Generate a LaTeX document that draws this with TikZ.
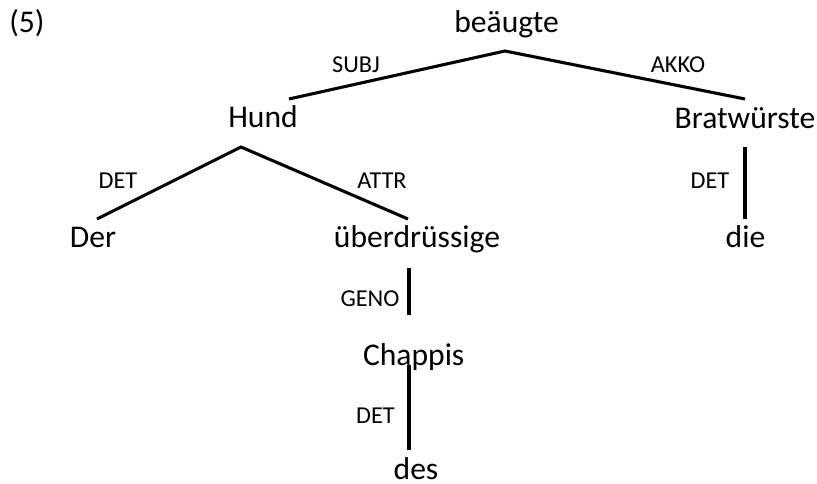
\documentclass[tikz,border=0pt]{standalone}
\usepackage{fontspec}
\setmainfont{Carlito}
\begin{document}
\begin{tikzpicture}[x=0.75pt,y=-0.75pt,
  word/.style={inner sep=0pt,anchor=base,font=\fontsize{23.7}{28}\selectfont},
  rel/.style={inner sep=0pt,anchor=base,font=\fontsize{18.2}{22}\selectfont},
  edge/.style={line width=2.3pt}]
\useasboundingbox (0,0) rectangle (817,484);
% words
\node[word,anchor=base west] (num) at (9,33) {(5)};
\node[word] (beaugte) at (506.5,33) {beäugte};
\node[word] (hund) at (263,128) {Hund};
\node[word] (brat) at (745,129) {Bratwürste};
\node[word] (der) at (93,248) {Der};
\node[word] (ueber) at (417,248) {überdrüssige};
\node[word] (die) at (745.5,248) {die};
\node[word] (chappis) at (413.7,366) {Chappis};
\node[word] (des) at (416,479.5) {des};
% relation labels
\node[rel] (subj) at (356,73) {SUBJ};
\node[rel] (akko) at (678,73) {AKKO};
\node[rel] (det1) at (118,189) {DET};
\node[rel] (attr) at (382,189) {ATTR};
\node[rel] (det2) at (710,189) {DET};
\node[rel] (geno) at (370,307) {GENO};
\node[rel] (det3) at (375.5,423) {DET};
% connector end points
\coordinate (beaugteB) at (505,51);
\coordinate (hundT) at (289,99);
\coordinate (bratT) at (745,99);
\coordinate (hundB) at (241,147);
\coordinate (derT) at (97,219);
\coordinate (ueberT) at (408,219);
\coordinate (bratB) at (745,147);
\coordinate (dieT) at (745,219);
\coordinate (ueberB) at (409,268);
\coordinate (chappisT) at (409,315);
\coordinate (chappisB) at (409,365);
\coordinate (desT) at (409,450);
% connectors
\draw[edge] (hundT) -- (beaugteB) -- (bratT);
\draw[edge] (derT) -- (hundB) -- (ueberT);
\draw[edge] (bratB) -- (dieT);
\draw[edge] (ueberB) -- (chappisT);
\draw[edge] (chappisB) -- (desT);
\end{tikzpicture}
\end{document}
